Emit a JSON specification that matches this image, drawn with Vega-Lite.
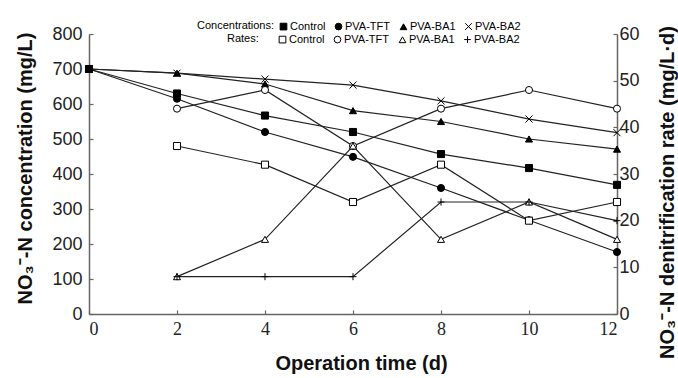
{
  "$schema": "https://vega.github.io/schema/vega-lite/v6.json",
  "width": 528,
  "height": 280,
  "autosize": "none",
  "padding": {"left": 89, "top": 34, "right": 61, "bottom": 64},
  "background": "white",
  "config": {
    "view": {"stroke": null},
    "font": "Liberation Sans",
    "axis": {
      "grid": false,
      "domainColor": "#666",
      "domainWidth": 1.5,
      "tickColor": "#666",
      "tickWidth": 1.2,
      "tickSize": -4,
      "labelColor": "#222",
      "titleColor": "#111",
      "titleFont": "Liberation Sans",
      "titleFontWeight": "bold",
      "titleFontSize": 20
    },
    "legend": {
      "orient": "none",
      "direction": "horizontal",
      "titleOrient": "left",
      "titleFont": "Liberation Sans",
      "labelFont": "Liberation Sans",
      "titleFontSize": 11,
      "titleFontWeight": "normal",
      "titleColor": "black",
      "labelFontSize": 11,
      "labelColor": "black",
      "labelOffset": 1,
      "columnPadding": 7,
      "symbolSize": 45,
      "symbolStrokeWidth": 1
    }
  },
  "data": {
    "values": [
      {"day": 0, "series": "Control", "kind": "conc", "value": 700},
      {"day": 2, "series": "Control", "kind": "conc", "value": 630},
      {"day": 4, "series": "Control", "kind": "conc", "value": 567},
      {"day": 6, "series": "Control", "kind": "conc", "value": 520},
      {"day": 8, "series": "Control", "kind": "conc", "value": 457},
      {"day": 10, "series": "Control", "kind": "conc", "value": 417},
      {"day": 12, "series": "Control", "kind": "conc", "value": 369},
      {"day": 0, "series": "PVA-TFT", "kind": "conc", "value": 700},
      {"day": 2, "series": "PVA-TFT", "kind": "conc", "value": 615},
      {"day": 4, "series": "PVA-TFT", "kind": "conc", "value": 520},
      {"day": 6, "series": "PVA-TFT", "kind": "conc", "value": 449},
      {"day": 8, "series": "PVA-TFT", "kind": "conc", "value": 360},
      {"day": 10, "series": "PVA-TFT", "kind": "conc", "value": 268},
      {"day": 12, "series": "PVA-TFT", "kind": "conc", "value": 177},
      {"day": 0, "series": "PVA-BA1", "kind": "conc", "value": 700},
      {"day": 2, "series": "PVA-BA1", "kind": "conc", "value": 688},
      {"day": 4, "series": "PVA-BA1", "kind": "conc", "value": 657},
      {"day": 6, "series": "PVA-BA1", "kind": "conc", "value": 581},
      {"day": 8, "series": "PVA-BA1", "kind": "conc", "value": 550},
      {"day": 10, "series": "PVA-BA1", "kind": "conc", "value": 500},
      {"day": 12, "series": "PVA-BA1", "kind": "conc", "value": 471},
      {"day": 0, "series": "PVA-BA2", "kind": "conc", "value": 700},
      {"day": 2, "series": "PVA-BA2", "kind": "conc", "value": 688},
      {"day": 4, "series": "PVA-BA2", "kind": "conc", "value": 671},
      {"day": 6, "series": "PVA-BA2", "kind": "conc", "value": 654},
      {"day": 8, "series": "PVA-BA2", "kind": "conc", "value": 609},
      {"day": 10, "series": "PVA-BA2", "kind": "conc", "value": 557},
      {"day": 12, "series": "PVA-BA2", "kind": "conc", "value": 518},
      {"day": 2, "series": "Control", "kind": "rate", "value": 36},
      {"day": 4, "series": "Control", "kind": "rate", "value": 32},
      {"day": 6, "series": "Control", "kind": "rate", "value": 24},
      {"day": 8, "series": "Control", "kind": "rate", "value": 32},
      {"day": 10, "series": "Control", "kind": "rate", "value": 20},
      {"day": 12, "series": "Control", "kind": "rate", "value": 24},
      {"day": 2, "series": "PVA-TFT", "kind": "rate", "value": 44},
      {"day": 4, "series": "PVA-TFT", "kind": "rate", "value": 48},
      {"day": 6, "series": "PVA-TFT", "kind": "rate", "value": 36},
      {"day": 8, "series": "PVA-TFT", "kind": "rate", "value": 44},
      {"day": 10, "series": "PVA-TFT", "kind": "rate", "value": 48},
      {"day": 12, "series": "PVA-TFT", "kind": "rate", "value": 44},
      {"day": 2, "series": "PVA-BA1", "kind": "rate", "value": 8},
      {"day": 4, "series": "PVA-BA1", "kind": "rate", "value": 16},
      {"day": 6, "series": "PVA-BA1", "kind": "rate", "value": 36},
      {"day": 8, "series": "PVA-BA1", "kind": "rate", "value": 16},
      {"day": 10, "series": "PVA-BA1", "kind": "rate", "value": 24},
      {"day": 12, "series": "PVA-BA1", "kind": "rate", "value": 16},
      {"day": 2, "series": "PVA-BA2", "kind": "rate", "value": 8},
      {"day": 4, "series": "PVA-BA2", "kind": "rate", "value": 8},
      {"day": 6, "series": "PVA-BA2", "kind": "rate", "value": 8},
      {"day": 8, "series": "PVA-BA2", "kind": "rate", "value": 24},
      {"day": 10, "series": "PVA-BA2", "kind": "rate", "value": 24},
      {"day": 12, "series": "PVA-BA2", "kind": "rate", "value": 20}
    ]
  },
  "encoding": {
    "x": {
      "field": "day",
      "type": "quantitative",
      "scale": {"domain": [0, 12], "nice": false},
      "axis": {
        "values": [0, 2, 4, 6, 8, 10, 12],
        "title": "Operation time (d)",
        "labelFont": "Liberation Serif",
        "labelFontSize": 18,
        "labelPadding": 10,
        "titleX": 272,
        "titleY": 49,
        "titleBaseline": "middle"
      }
    }
  },
  "layer": [
    {
      "transform": [{"filter": "datum.kind === 'conc'"}],
      "encoding": {
        "y": {
          "field": "value",
          "type": "quantitative",
          "scale": {"domain": [0, 800], "nice": false},
          "axis": {
            "values": [0, 100, 200, 300, 400, 500, 600, 700, 800],
            "title": "NO₃⁻-N concentration (mg/L)",
            "labelFontSize": 18,
            "labelPadding": 11,
            "titleX": -64,
            "titleY": 134,
            "titleBaseline": "middle"
          }
        }
      },
      "layer": [
        {
          "mark": {"type": "line", "color": "#222", "strokeWidth": 1.2},
          "encoding": {"detail": {"field": "series"}}
        },
        {
          "mark": {"type": "point", "filled": true, "strokeWidth": 1, "opacity": 1, "size": 50},
          "encoding": {
            "shape": {
              "field": "series",
              "type": "nominal",
              "scale": {
                "domain": ["Control", "PVA-TFT", "PVA-BA1", "PVA-BA2"],
                "range": ["square", "circle", "triangle-up", "M-1,-1L1,1M-1,1L1,-1"]
              },
              "legend": {"title": "Concentrations:", "legendX": 108, "legendY": -13, "titlePadding": 3}
            },
            "fill": {
              "field": "series",
              "type": "nominal",
              "scale": {
                "domain": ["Control", "PVA-TFT", "PVA-BA1", "PVA-BA2"],
                "range": ["black", "black", "black", "transparent"]
              },
              "legend": {"title": "Concentrations:", "legendX": 108, "legendY": -13, "titlePadding": 3}
            },
            "stroke": {
              "field": "series",
              "type": "nominal",
              "scale": {
                "domain": ["Control", "PVA-TFT", "PVA-BA1", "PVA-BA2"],
                "range": ["black", "black", "black", "black"]
              },
              "legend": {"title": "Concentrations:", "legendX": 108, "legendY": -13, "titlePadding": 3}
            }
          }
        }
      ]
    },
    {
      "transform": [{"filter": "datum.kind === 'rate'"}],
      "encoding": {
        "y": {
          "field": "value",
          "type": "quantitative",
          "scale": {"domain": [0, 60], "nice": false},
          "axis": {
            "orient": "right",
            "values": [0, 10, 20, 30, 40, 50, 60],
            "title": "NO₃⁻-N denitrification rate (mg/L·d)",
            "titleAngle": 270,
            "labelFontSize": 18,
            "labelPadding": 6,
            "titleX": 50,
            "titleY": 158,
            "titleBaseline": "middle"
          }
        }
      },
      "layer": [
        {
          "mark": {"type": "line", "color": "#222", "strokeWidth": 1.2},
          "encoding": {"detail": {"field": "series"}}
        },
        {
          "mark": {"type": "point", "filled": true, "strokeWidth": 1, "opacity": 1, "size": 50},
          "encoding": {
            "shape": {
              "field": "series",
              "type": "nominal",
              "scale": {
                "domain": ["Control", "PVA-TFT", "PVA-BA1", "PVA-BA2"],
                "range": ["square", "circle", "triangle-up", "M-1,0L1,0M0,-1L0,1"]
              },
              "legend": {"title": "Rates:", "legendX": 138, "legendY": 0, "titlePadding": 18}
            },
            "fill": {
              "field": "series",
              "type": "nominal",
              "scale": {
                "domain": ["Control", "PVA-TFT", "PVA-BA1", "PVA-BA2"],
                "range": ["white", "white", "white", "transparent"]
              },
              "legend": {"title": "Rates:", "legendX": 138, "legendY": 0, "titlePadding": 18}
            },
            "stroke": {
              "field": "series",
              "type": "nominal",
              "scale": {
                "domain": ["Control", "PVA-TFT", "PVA-BA1", "PVA-BA2"],
                "range": ["black", "black", "black", "black"]
              },
              "legend": {"title": "Rates:", "legendX": 138, "legendY": 0, "titlePadding": 18}
            }
          }
        }
      ]
    }
  ],
  "resolve": {
    "scale": {"y": "independent", "shape": "independent", "fill": "independent", "stroke": "independent"}
  }
}
